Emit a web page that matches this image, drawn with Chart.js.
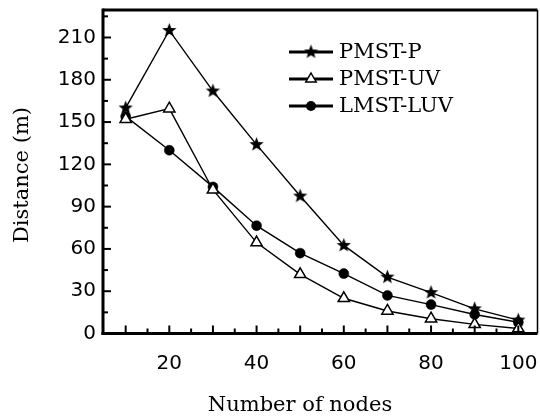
<!DOCTYPE html>
<html>
<head>
<meta charset="utf-8">
<script src="https://cdn.jsdelivr.net/npm/chart.js@4/dist/chart.umd.min.js"></script>
<style>
  html, body { margin: 0; padding: 0; background: #fff; }
  #wrap { width: 540px; height: 420px; }
</style>
</head>
<body>
<div id="wrap"><canvas id="c" width="540" height="420"></canvas></div>
<script>
// ---- data ----
const nodes   = [10, 20, 30, 40, 50, 60, 70, 80, 90, 100];
const pmstP   = [160, 215, 172, 134, 97.5, 62.5, 40, 29, 17.5, 9.5];
const pmstUV  = [152, 159.5, 102, 64.5, 42, 25, 16, 10.5, 6.5, 3.5];
const lmstLUV = [154, 130, 104, 76.5, 57, 42.5, 27, 20.5, 13.5, 8];
const seriesNames = ['PMST-P', 'PMST-UV', 'LMST-LUV'];
const xTickLabels = [20, 40, 60, 80, 100];
const yTickLabels = [0, 30, 60, 90, 120, 150, 180, 210];
const xTitle = 'Number of nodes';
const yTitle = 'Distance (m)';

// ---- star marker ----
function makeStar(size, outer, inner) {
  const c = document.createElement('canvas');
  c.width = size; c.height = size;
  const g = c.getContext('2d');
  g.fillStyle = '#000';
  g.beginPath();
  for (let i = 0; i < 10; i++) {
    const r = i % 2 === 0 ? outer : inner;
    const a = -Math.PI / 2 + i * Math.PI / 5;
    const px = size / 2 + r * Math.cos(a), py = size / 2 + r * Math.sin(a);
    if (i === 0) g.moveTo(px, py); else g.lineTo(px, py);
  }
  g.closePath();
  g.fill();
  return c;
}
const starImg = makeStar(17, 7.5, 3.2);

const toXY = arr => nodes.map((n, i) => ({ x: n, y: arr[i] }));

function line(ctx, x1, y1, x2, y2) {
  ctx.beginPath(); ctx.moveTo(x1, y1); ctx.lineTo(x2, y2); ctx.stroke();
}

function drawMarker(ctx, kind, x, y) {
  ctx.save();
  if (kind === 0) {
    ctx.drawImage(starImg, x - starImg.width / 2, y - starImg.height / 2);
  } else if (kind === 1) {
    const r = 6;
    ctx.beginPath();
    ctx.moveTo(x, y - r);
    ctx.lineTo(x + r * 0.866, y + r * 0.5);
    ctx.lineTo(x - r * 0.866, y + r * 0.5);
    ctx.closePath();
    ctx.fillStyle = '#fff'; ctx.fill();
    ctx.lineWidth = 1.5; ctx.strokeStyle = '#000'; ctx.stroke();
  } else {
    ctx.beginPath(); ctx.arc(x, y, 5, 0, Math.PI * 2);
    ctx.fillStyle = '#000'; ctx.fill();
  }
  ctx.restore();
}

const framePlugin = {
  id: 'frame',
  afterDraw(chart) {
    const { ctx, chartArea: { left, right, top, bottom }, scales: { x, y } } = chart;
    ctx.save();
    ctx.strokeStyle = '#000';
    ctx.lineCap = 'butt';
    // inner ticks
    ctx.lineWidth = 2;
    for (let v = 10; v <= 100; v += 5) {
      const px = x.getPixelForValue(v);
      line(ctx, px, bottom, px, bottom - (v % 10 === 0 ? 8 : 5));
    }
    for (let v = 15; v <= 225; v += 15) {
      const py = y.getPixelForValue(v);
      line(ctx, left, py, left + (v % 30 === 0 ? 8 : 5), py);
    }
    // frame
    ctx.lineWidth = 3;
    line(ctx, left - 1.5, bottom, right, bottom);
    line(ctx, left, top - 1.5, left, bottom + 1.5);
    line(ctx, left, top, right, top);
    ctx.lineWidth = 1.5;
    line(ctx, right, top, right, bottom);

    // legend
    ctx.fillStyle = '#000';
    ctx.font = '21px "DejaVu Serif"';
    ctx.textBaseline = 'middle';
    ctx.textAlign = 'left';
    seriesNames.forEach((name, i) => {
      const ly = 52 + i * 27;
      ctx.lineWidth = 3;
      line(ctx, 289, ly, 333, ly);
      drawMarker(ctx, i, 311, ly);
      ctx.fillStyle = '#000';
      ctx.fillText(name, 339, ly + 1);
    });

    // axis titles
    ctx.font = '21px "DejaVu Serif"';
    ctx.textAlign = 'center';
    ctx.fillText(xTitle, 300, 406);
    ctx.save();
    ctx.translate(23, 175);
    ctx.rotate(-Math.PI / 2);
    ctx.fillText(yTitle, 0, 0);
    ctx.restore();
    ctx.restore();
  }
};

const common = { borderColor: '#000', borderWidth: 1.4, tension: 0, pointBorderColor: '#000' };

new Chart(document.getElementById('c'), {
  type: 'line',
  data: {
    datasets: [
      Object.assign({ label: seriesNames[0], data: toXY(pmstP), pointStyle: starImg, pointRadius: 8 }, common),
      Object.assign({ label: seriesNames[1], data: toXY(pmstUV), pointStyle: 'triangle', pointRadius: 6.5,
        pointBackgroundColor: '#fff', pointBorderWidth: 1.5 }, common),
      Object.assign({ label: seriesNames[2], data: toXY(lmstLUV), pointStyle: 'circle', pointRadius: 5,
        pointBackgroundColor: '#000', pointBorderWidth: 0.5 }, common)
    ]
  },
  options: {
    responsive: false,
    animation: false,
    devicePixelRatio: 1,
    layout: { autoPadding: false, padding: { left: 0, right: 2.5, top: 10, bottom: 0 } },
    plugins: { legend: { display: false }, tooltip: { enabled: false } },
    scales: {
      x: {
        type: 'linear', min: 4.8, max: 104.4,
        afterBuildTicks: s => { s.ticks = xTickLabels.map(v => ({ value: v })); },
        afterFit: s => { s.height = 86.5; s.paddingLeft = 0; s.paddingRight = 0; },
        grid: { display: false, drawTicks: false },
        border: { display: false },
        ticks: { color: '#000', font: { family: 'DejaVu Sans', size: 20 }, padding: 18, maxRotation: 0, autoSkip: false }
      },
      y: {
        type: 'linear', min: 0, max: 229.5,
        afterBuildTicks: s => { s.ticks = yTickLabels.map(v => ({ value: v })); },
        afterFit: s => { s.width = 103; s.paddingTop = 0; s.paddingBottom = 0; },
        grid: { display: false, drawTicks: false },
        border: { display: false },
        ticks: { color: '#000', font: { family: 'DejaVu Sans', size: 20 }, padding: 7, autoSkip: false }
      }
    }
  },
  plugins: [framePlugin]
});
</script>
</body>
</html>
